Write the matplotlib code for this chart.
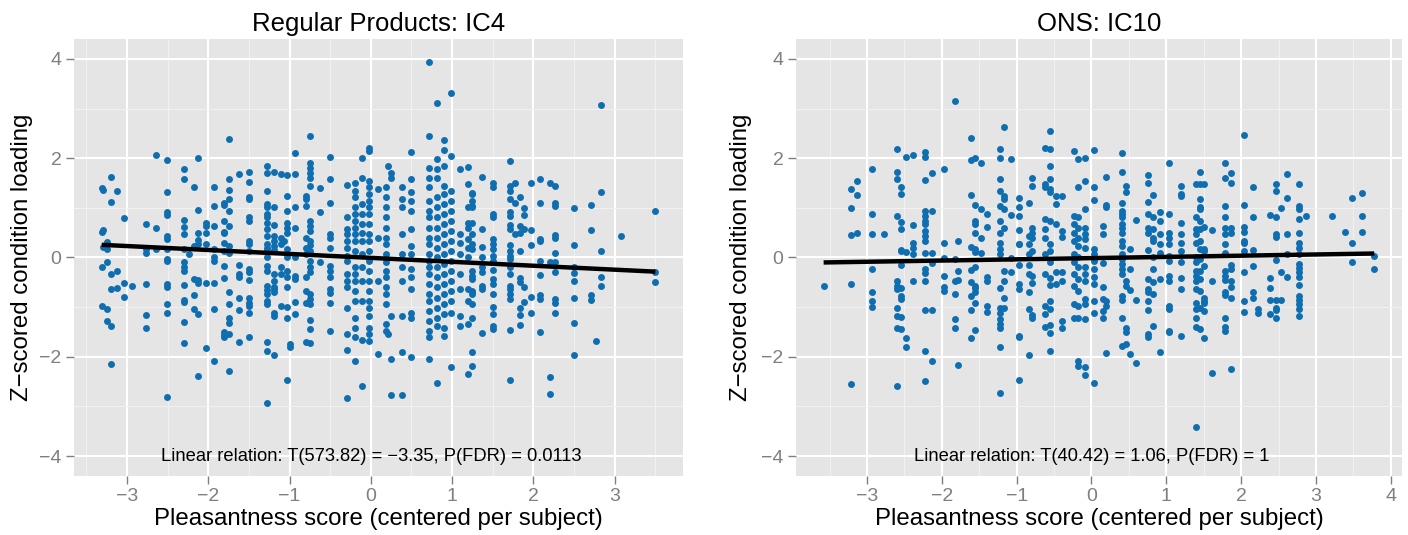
# Scatter of pleasantness vs z-scored condition loading, two panels (ggplot-like look)

import matplotlib
matplotlib.use("Agg")
import matplotlib.pyplot as plt
import numpy as np

plt.rcParams["font.family"] = ["Liberation Sans", "DejaVu Sans"]

# ── Data (grouped by x column) ───────────────────────────────────────────────
reg_x = [-3.31, -3.29, -3.24, -3.20, -3.19, -3.12, -3.04, -2.94, -2.76, -2.64,
         -2.51, -2.30, -2.24, -2.17, -2.12, -2.03, -1.93, -1.80, -1.75, -1.62,
         -1.50, -1.28, -1.19, -1.10, -1.07, -1.03, -1.00, -0.93, -0.80, -0.75,
         -0.63, -0.50, -0.29, -0.20, -0.11, -0.02, 0.09, 0.19, 0.21, 0.25,
         0.38, 0.50, 0.71, 0.81, 0.90, 0.99, 1.10, 1.19, 1.25, 1.37,
         1.50, 1.71, 1.77, 1.83, 1.89, 1.97, 2.08, 2.20, 2.26, 2.50,
         2.71, 2.77, 2.83, 3.08, 3.50]
reg_y = [
    [1.39, 0.52, -0.19, -0.97],
    [1.36, 0.56, 0.21],
    [0.32, 0.17, -0.09, -1.03, -1.28],
    [-1.38],
    [1.62, 1.11, -0.34, -0.64, -2.15],
    [1.33, -0.27, -0.62],
    [0.79, -0.52, -0.79],
    [-0.58],
    [0.68, 0.17, 0.09, -0.54, -1.16, -1.41],
    [2.07, 0.59, 0.17],
    [1.96, 1.31, 0.91, 0.86, 0.44, 0.37, 0.17, -0.03, -0.08, -0.54, -0.6, -0.94, -1.12, -2.81],
    [1.78, 1.58, 0.76, 0.62, 0.47, 0.17, -0.1, -0.2, -0.27, -0.55, -0.86, -0.89, -1.3, -1.72],
    [0.07],
    [1.42, 0.23, -0.44, -0.75, -1.03],
    [2.0, 0.95, 0.5, 0.35, 0.27, -0.46, -0.52, -1.14, -2.39],
    [0.7, 0.64, 0.5, 0.27, -0.52, -1.83],
    [1.41, 1.04, 0.64, 0.17, 0.0, -0.07, -0.52, -1.04, -2.08],
    [1.09, 1.06, 0.74, 0.52, 0.5, 0.3, 0.13, -0.18, -0.42, -1.51, -1.56, -1.61],
    [2.38, 1.58, 1.36, 1.17, 0.94, 0.64, 0.23, 0.1, -0.7, -0.94, -1.22, -1.31, -1.54, -2.28],
    [1.69, -0.15, -0.34, -0.4, -0.82, -1.06, -1.7],
    [1.72, 1.53, 1.22, 1.17, 0.81, 0.74, 0.34, 0.27, 0.13, -0.23, -0.3, -0.46, -0.82, -0.91,
     -0.97, -1.11, -1.6],
    [1.85, 1.7, 1.34, 1.07, 1.02, 0.87, 0.81, 0.7, 0.57, 0.44, 0.27, 0.2, 0.13, 0.01, -0.17,
     -0.27, -0.57, -0.66, -0.74, -0.87, -0.94, -1.7, -1.88, -2.93],
    [1.72, 1.02, 0.66, 0.44, 0.34, 0.23, 0.15, -0.34, -0.47, -0.6, -0.64, -0.7, -1.11, -1.17, -1.97],
    [1.68, 0.4, 0.27, -0.2, -0.34, -0.97],
    [0.34],
    [1.66, 1.24, 0.93, 0.7, 0.6, 0.5, 0.17, 0.0, -0.27, -0.4, -0.6, -0.99, -1.21, -2.47],
    [-1.74, -1.81],
    [2.11, 1.68, 1.01, 0.6, 0.0, -0.37, -0.44, -0.89, -1.14],
    [1.24, 1.17, 1.04, 0.4, 0.2, 0.07, -0.4, -0.67, -0.91, -1.71],
    [2.45, 1.91, 1.81, 1.71, 1.61, 1.44, 0.74, 0.64, 0.54, 0.34, 0.26, 0.13, -0.07, -0.2, -0.3,
     -0.74, -0.84, -0.94, -1.26, -1.44, -1.72],
    [1.39, 0.91, -0.09],
    [2.03, 1.59, 1.09, 0.47, 0.4, 0.2, -0.17, -0.27, -0.4, -0.64, -0.72, -0.91, -1.48],
    [1.46, 0.81, 0.57, 0.47, 0.34, 0.2, 0.03, -0.07, -0.34, -0.47, -0.6, -1.01, -1.54, -1.87, -2.83],
    [1.51, 1.34, 1.21, 1.01, 0.87, 0.74, 0.6, 0.47, 0.34, 0.13, -0.2, -0.34, -0.47, -0.67, -0.87,
     -1.21, -1.42, -1.61, -2.08],
    [2.01, 1.6, 1.07, 0.87, 0.67, 0.5, 0.34, 0.07, -0.2, -0.47, -0.87, -1.66, -2.58],
    [2.21, 2.15, 1.54, 1.41, 1.28, 1.14, 1.01, 0.87, 0.67, 0.47, 0.34, 0.13, -0.07, -0.27, -0.47,
     -0.67, -0.87, -1.01, -1.17, -1.41, -1.54, -1.68],
    [1.38, 0.4, -0.47, -1.95],
    [1.41, 1.21, 1.01, 0.81, 0.6, 0.4, 0.27, 0.07, -0.1, -0.27, -0.4, -0.6, -0.74, -0.94, -1.34, -1.48],
    [1.85, -1.54],
    [1.71, 1.61, -1.17, -2.05, -2.77],
    [1.41, 1.17, 1.01, 0.47, 0.07, -0.2, -0.47, -1.17, -1.91, -2.77],
    [2.13, 1.58, 1.31, 1.14, 0.94, 0.57, 0.23, 0.07, -0.23, -0.4, -0.64, -1.11, -1.21, -2.0],
    [3.93, 2.45, 1.81, 1.61, 1.41, 1.14, 0.94, 0.81, 0.6, 0.4, 0.27, 0.07, -0.07, -0.2, -0.34,
     -0.54, -0.74, -0.87, -1.07, -1.28, -1.48, -1.61, -2.05],
    [3.12, 1.98, 1.78, 1.61, 1.21, 1.01, 0.81, 0.6, 0.4, 0.2, 0.0, -0.2, -0.4, -0.6, -0.81,
     -1.01, -1.21, -1.38, -2.53],
    [2.36, 2.16, 1.85, 1.44, 1.28, 1.07, 0.87, 0.67, 0.47, 0.27, 0.07, -0.13, -0.34, -0.54, -0.74,
     -0.94, -1.14, -1.41, -1.58],
    [3.31, 2.05, 1.34, 1.14, 0.94, 0.74, 0.54, 0.34, 0.13, -0.07, -0.27, -0.47, -0.67, -0.87,
     -1.11, -2.2],
    [1.78, 0.47, 0.3, 0.07, -0.34, -0.64, -1.17, -1.38],
    [1.83, 1.48, 1.02, 0.7, 0.6, 0.37, 0.2, 0.0, -0.64, -0.87, -1.34, -2.35],
    [1.29, 1.28, 1.14, 1.04, 1.01, 0.7, 0.47, 0.27, 0.17, -0.27, -0.37, -0.44, -0.67, -0.7, -0.74,
     -0.94, -1.22, -1.9, -2.18],
    [1.62, 0.58, 0.21, 0.0, -0.2, -0.3, -0.57, -0.64, -1.53],
    [1.51, 1.41, 0.87, 0.82, 0.37, 0.27, 0.17, 0.03, -0.07, -0.26, -0.44, -0.54, -0.74, -0.99,
     -1.14, -1.38, -1.44],
    [1.95, 1.43, 1.34, 1.17, 0.91, 0.84, 0.66, 0.57, 0.26, 0.13, 0.03, -0.03, -0.2, -0.34, -0.57,
     -0.64, -0.74, -0.84, -1.46, -2.46],
    [1.51, 1.09, 0.47],
    [1.21, 0.64, 0.5, 0.13, -0.42, -0.5, -1.01, -1.16, -1.36],
    [0.99, 0.85, 0.57, -0.59, -0.89],
    [1.51, 0.55, 0.26, -0.79, -1.11],
    [1.58, 1.09, 0.37, 0.34, -0.08, -0.35, -0.76, -0.83, -1.5],
    [1.51, -0.1, -2.4, -2.74],
    [1.44, 1.09, 1.03, 0.45, 0.4, 0.09, -0.1, -0.3, -0.84, -0.92, -1.11],
    [0.99, 0.25, -0.19, -0.32, -0.47, -0.81, -1.31, -1.96],
    [1.05, 0.56, -0.75, -0.86],
    [-1.68],
    [3.07, 1.31, 0.13, -0.4, -0.57],
    [0.44],
    [0.93, -0.3, -0.49],
]

ons_x = [-3.58, -3.22, -3.14, -2.94, -2.77, -2.60, -2.55, -2.48, -2.39, -2.22,
         -2.13, -1.97, -1.83, -1.78, -1.61, -1.55, -1.47, -1.39, -1.22, -1.17,
         -1.08, -0.97, -0.84, -0.79, -0.62, -0.55, -0.48, -0.40, -0.24, -0.18,
         -0.09, 0.04, 0.16, 0.20, 0.41, 0.46, 0.52, 0.60, 0.76, 0.82,
         0.91, 1.03, 1.20, 1.40, 1.45, 1.51, 1.61, 1.78, 1.86, 2.04,
         2.16, 2.22, 2.39, 2.46, 2.53, 2.61, 2.78, 2.87, 3.22, 3.39,
         3.48, 3.61, 3.78]
ons_y = [
    [-0.58],
    [1.38, 0.99, 0.45, -0.54, -2.54],
    [1.54, 1.26, 0.5],
    [1.79, 0.87, 0.48, -0.24, -0.7, -0.87, -0.99],
    [0.47],
    [2.19, 1.72, 1.59, 0.83, -0.48, -0.57, -0.64, -1.02, -1.17, -1.41, -2.59],
    [1.42, 1.28, 0.72, 0.57, 0.13, 0.15, -0.15, -0.62, -0.77, -0.84, -1.19, -1.44],
    [2.03, 0.12, -1.62, -1.81],
    [2.06, 0.65, 0.3, 0.2, 0.07, -0.48],
    [2.13, 2.03, 1.57, 0.93, 0.84, 0.74, 0.67, 0.54, 0.44, 0.34, 0.09, -0.23, -0.32, -0.47,
     -1.06, -1.88, -2.49],
    [1.71, 0.93, 0.09, -0.12, -1.06, -2.09],
    [1.79, 0.29, -0.01, -0.37, -0.59, -0.68],
    [3.15, -0.03, -0.47, -0.74, -1.23, -1.42],
    [0.34, -0.28, -0.46, -2.17],
    [2.41, 1.96, 1.26, 0.21, -0.26, -0.5, -0.77, -1.06, -1.62],
    [2.01, 1.06, 0.74, 0.68, 0.5, 0.17, 0.12, -0.2, -0.57, -0.62, -0.7, -0.91, -1.46],
    [1.91, 0.97, 0.4, 0.09],
    [0.87, 0.62, -0.39, -0.48, -0.97, -1.09],
    [2.18, 2.01, 1.58, 1.34, 1.04, 0.74, 0.49, 0.3, 0.17, 0.07, -0.62, -1.01, -1.11, -1.24,
     -1.34, -1.42, -1.81, -2.72],
    [2.62, 1.24, 1.17, 0.97, 0.6, -0.27, -0.48, -0.82, -1.01],
    [1.98, 0.86, -0.01, -0.3],
    [1.19, 1.01, 0.84, 0.55, 0.27, 0.28, -0.15, -0.64, -0.54, -1.61, -1.58, -2.47],
    [1.09, 0.44, 0.27, 0.07, -0.15, -0.34, -0.7, -1.03, -1.97],
    [1.61, 1.44, 0.6, 0.5, 0.4, 0.13, -0.37, -0.52, -1.15, -1.21],
    [2.2, 1.48, 1.42, 0.77, 0.57, 0.4, 0.07, -0.34, -0.97, -1.14, -1.39],
    [2.55, 2.18, 1.85, 1.58, 1.38, 1.31, 0.74, 0.27, 0.13, -0.1, -0.42, -0.55, -0.87, -1.04,
     -1.36, -1.53, -1.88],
    [1.24, 1.07, 0.68, -0.3, -0.54],
    [1.23, 0.54, 0.42, -0.3, -0.47, -1.28, -1.41],
    [2.15, 0.84, 0.68, 0.5, 0.34, 0.07, -0.1, -0.34, -0.57, -0.94, -1.21],
    [1.98, 1.42, 0.81, 0.6, 0.4, 0.23, 0.0, -0.2, -0.44, -0.67, -0.97, -1.22, -2.08, -2.18],
    [2.01, 1.54, 0.97, 0.6, 0.48, 0.37, 0.2, -0.2, -0.34, -0.47, -0.84, -0.94, -1.24, -2.2, -2.37],
    [2.16, 1.41, 1.15, 0.17, 0.07, -0.07, -0.23, -0.4, -0.54, -0.87, -1.11, -2.53],
    [0.64, 0.47, -0.12, -0.6, -0.84, -1.07, -1.21],
    [1.62, 1.02, 1.05, -0.87, -0.97, -1.93],
    [2.1, 1.72, 1.09, 0.93, 0.87, 0.81, 0.68, 0.6, 0.5, 0.34, 0.23, 0.07, -0.03, -0.13, -0.23,
     -0.34, -0.77, -0.86, -1.21, -1.79],
    [1.44, 1.31, -0.47, -0.57, -1.42, -1.51, -1.74],
    [0.17, -0.23, -0.65, -1.95],
    [0.75, -0.86, -2.13],
    [1.66, 1.51, 1.12, 0.87, 0.6, 0.5, 0.15, -0.44, -0.64, -0.7, -0.87, -1.06, -1.54, -1.61],
    [1.26, 0.81, 0.57, 0.4, 0.34, 0.0, -0.23, -0.5, -0.74, -1.38],
    [0.91, 0.74, 0.47, 0.27, 0.1, -0.44, -1.91],
    [1.91, 0.87, 0.5, 0.4, 0.27, 0.03, -0.07, -0.37, -0.47, -0.97, -1.04, -1.48, -1.51],
    [1.43, 1.28, 1.24, 0.7, 0.47, 0.3, 0.13, -0.1, -0.42, -0.64, -1.59],
    [1.48, 0.81, 0.58, 0.47, 0.3, 0.0, -0.1, -0.27, -0.37, -0.47, -0.64, -0.91, -1.04, -1.22,
     -1.4, -3.42],
    [1.72, 1.49, 1.17, 1.01, 0.97, 0.74, 0.57, 0.34, 0.17, -0.03, -0.27, -0.44, -0.67, -1.01, -1.44],
    [1.48, 0.62, 0.17, 0.13, -0.17, -0.81, -0.87, -0.91, -1.07, -1.63],
    [0.56, -0.48, -2.32],
    [1.91, 1.61, 1.03, 0.81, 0.6, 0.47, 0.27, 0.1, -0.28, -0.37, -0.45, -0.7, -0.75, -1.21,
     -1.4, -1.48],
    [1.71, 1.5, 0.6, 0.5, -0.15, -0.23, -0.48, -0.6, -0.82, -2.25],
    [2.46, 1.06, 0.62, 0.52, 0.3, 0.34, 0.13, -0.29, -0.87, -1.09],
    [1.41, 0.81, 0.15, -0.17, -0.69, -0.82],
    [-1.04, -1.11],
    [0.86, -0.42, -0.62, -0.85, -1.13],
    [1.48, 1.33, 0.81, 0.47, 0.42, -0.05, -0.86, -1.01, -1.06, -1.22],
    [0.99, -0.29, -0.86],
    [1.68, 1.19, 0.48, 0.07, -0.39],
    [1.48, 1.04, 0.97, 0.77, 0.5, 0.3, 0.2, 0.07, -0.13, -0.22, -0.3, -0.4, -0.56, -0.77,
     -0.86, -0.94, -1.04, -1.17],
    [0.83],
    [0.84],
    [0.52],
    [1.19, 0.29, -0.1],
    [1.3, 0.84, 0.52],
    [0.03, -0.23],
]

# fitted line end points
reg_fit_x = [-3.31, 3.50]
reg_fit_y = [0.255, -0.285]
ons_fit_x = [-3.58, 3.78]
ons_fit_y = [-0.10, 0.08]

titles = ["Regular Products: IC4", "ONS: IC10"]
notes = ["Linear relation: T(573.82) = \u22123.35, P(FDR) = 0.0113",
         "Linear relation: T(40.42) = 1.06, P(FDR) = 1"]
reg_xticks = [-3, -2, -1, 0, 1, 2, 3]
ons_xticks = [-3, -2, -1, 0, 1, 2, 3, 4]
yticks = [-4, -2, 0, 2, 4]

# ── Palette ──────────────────────────────────────────────────────────────────
PANEL_BG = "#E5E5E5"
MAJOR    = "white"
MINOR    = "#F2F2F2"
DOT      = "#0F6EB0"
TICK_COL = "#7F7F7F"


def _flatten(xs, ys):
    px = np.concatenate([[x] * len(col) for x, col in zip(xs, ys)])
    py = np.concatenate([col for col in ys])
    return px, py


def draw_panel(ax, xs, ys, fit_x, fit_y, xticks, xlim, title, note, ylab_x):
    ax.set_facecolor(PANEL_BG)
    for s in ax.spines.values():
        s.set_visible(False)

    px, py = _flatten(xs, ys)
    ax.scatter(px, py, s=25, color=DOT, linewidths=0, zorder=3)
    ax.plot(fit_x, fit_y, color="black", lw=3.2, solid_capstyle="butt", zorder=4)

    ax.set_xticks(xticks)
    ax.set_xticklabels([str(t).replace("-", "\u2212") for t in xticks])
    ax.set_yticks(yticks)
    ax.set_yticklabels([str(t).replace("-", "\u2212") for t in yticks])
    ax.set_xticks([t + 0.5 for t in range(-5, 5)], minor=True)
    ax.set_yticks([-3, -1, 1, 3], minor=True)
    # limits after the ticks, otherwise the minor ticks widen the view
    ax.set_xlim(*xlim)
    ax.set_ylim(-4.4, 4.4)
    ax.tick_params(which="minor", length=0)
    ax.tick_params(which="major", length=6, width=1, color=TICK_COL,
                   labelcolor=TICK_COL, labelsize=14, pad=3)
    ax.grid(which="major", color=MAJOR, lw=1.5, zorder=0)
    ax.grid(which="minor", color=MINOR, lw=0.7, zorder=0)
    ax.set_axisbelow(True)

    ax.set_title(title, fontsize=18.5, pad=6)
    ax.set_xlabel("Pleasantness score (centered per subject)", fontsize=17.3, labelpad=2)
    ax.set_ylabel("Z\u2212scored condition loading", fontsize=17.3)
    ax.yaxis.set_label_coords(ylab_x, 0.5)
    ax.text(0, -4.0, note, ha="center", va="center", fontsize=13.2, zorder=5)


fig = plt.figure(figsize=(14.08, 5.35), dpi=100)
ax1 = fig.add_axes([0.0526, 0.1103, 0.4325, 0.8168])
ax2 = fig.add_axes([0.5653, 0.1103, 0.4304, 0.8168])

draw_panel(ax1, reg_x, reg_y, reg_fit_x, reg_fit_y, reg_xticks, (-3.65, 3.84),
           titles[0], notes[0], -0.067)
draw_panel(ax2, ons_x, ons_y, ons_fit_x, ons_fit_y, ons_xticks, (-3.95, 4.15),
           titles[1], notes[1], -0.072)

fig.savefig("out.png", dpi=100, facecolor="white")
